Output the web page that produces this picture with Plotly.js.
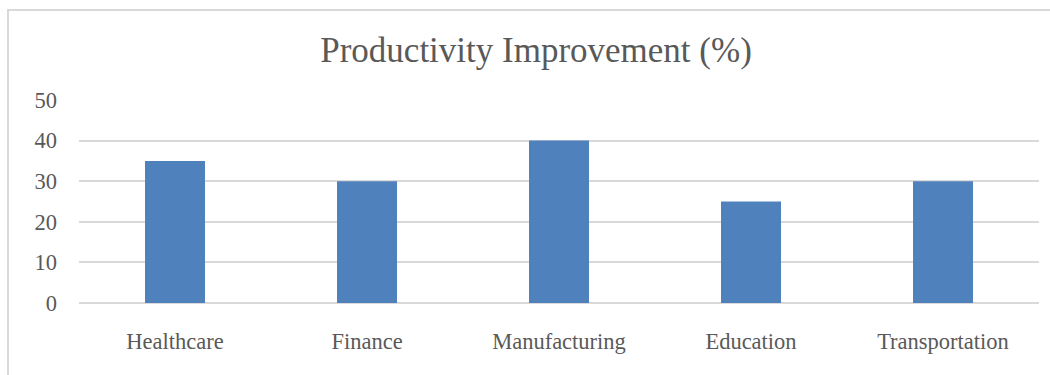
<!DOCTYPE html>
<html><head><meta charset="utf-8">
<script src="https://cdn.plot.ly/plotly-3.0.1.min.js"></script>
<style>html,body{margin:0;padding:0;background:#fff;}#chart{width:1050px;height:375px;position:absolute;left:0;top:0;}
#frame{position:absolute;left:7px;top:9px;width:1100px;height:400px;border-left:2px solid #d9d9d9;border-top:2px solid #d9d9d9;pointer-events:none;}</style>
</head><body>
<div id="chart"></div><div id="frame"></div>
<script>
const categories = ["Healthcare", "Finance", "Manufacturing", "Education", "Transportation"];
const improvement = [35, 30, 40, 25, 30];
const yTicks = [0, 10, 20, 30, 40, 50];

const font = "'Liberation Serif', 'Times New Roman', serif";
Plotly.newPlot('chart', [{
  type: 'bar', x: categories, y: improvement,
  marker: {color: '#4f81bd'}, hoverinfo: 'x+y'
}], {
  width: 1050, height: 375,
  margin: {l: 79, r: 11, t: 100, b: 72},
  paper_bgcolor: '#fff', plot_bgcolor: '#fff',
  bargap: 0.6875,
  showlegend: false,
  title: {text: 'Productivity Improvement (%)', font: {family: font, size: 35, color: '#595959'},
          x: 0.5105, xanchor: 'center', y: 0.867, yanchor: 'middle', yref: 'container', xref: 'container'},
  xaxis: {tickfont: {family: font, size: 22.5, color: '#595959'}, showgrid: false, showline: false,
          ticks: '', ticklabelstandoff: 22, zeroline: false},
  yaxis: {range: [0, 50], tickvals: yTicks, tickfont: {family: font, size: 22.5, color: '#595959'},
          showgrid: true, gridcolor: '#d9d9d9', gridwidth: 2, zeroline: true, zerolinecolor: '#d9d9d9', zerolinewidth: 2,
          showline: false, ticks: '', ticklabelstandoff: 21}
}, {displayModeBar: false, staticPlot: true});
</script>
</body></html>
